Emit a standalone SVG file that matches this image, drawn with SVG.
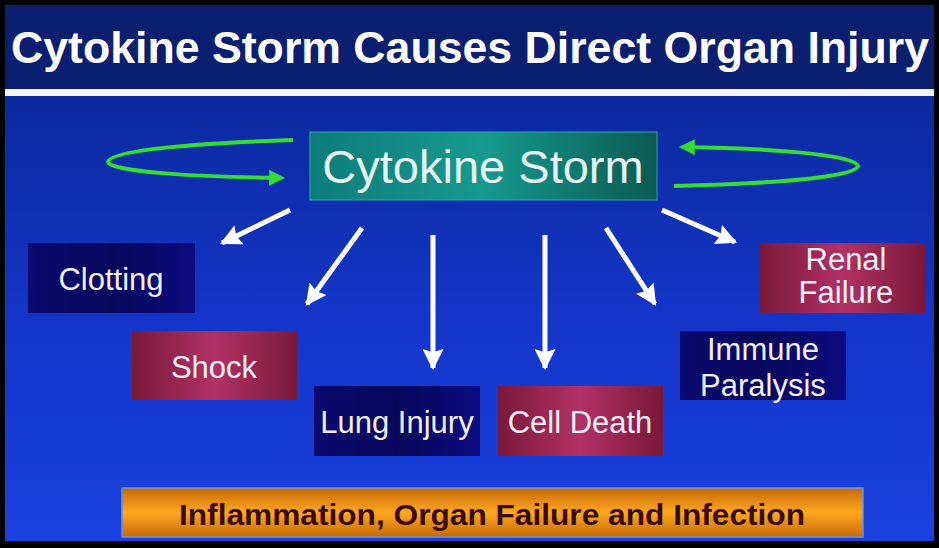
<svg xmlns="http://www.w3.org/2000/svg" width="939" height="548" viewBox="0 0 939 548">
<defs>
<linearGradient id="bg" x1="0" y1="0" x2="0" y2="1">
<stop offset="0" stop-color="#0b2a9e"/>
<stop offset="0.5" stop-color="#1435c8"/>
<stop offset="1" stop-color="#1a42e0"/>
</linearGradient>
<linearGradient id="teal" x1="0" y1="0" x2="1" y2="0">
<stop offset="0" stop-color="#0f7c7a"/>
<stop offset="0.5" stop-color="#169a8e"/>
<stop offset="1" stop-color="#0a5a52"/>
</linearGradient>
<linearGradient id="navy" x1="0" y1="0" x2="1" y2="0">
<stop offset="0" stop-color="#0a0a70"/>
<stop offset="0.5" stop-color="#07075a"/>
<stop offset="1" stop-color="#0c0c80"/>
</linearGradient>
<linearGradient id="maroon" x1="0" y1="0" x2="1" y2="0">
<stop offset="0" stop-color="#7a1838"/>
<stop offset="0.5" stop-color="#b03264"/>
<stop offset="1" stop-color="#7a1838"/>
</linearGradient>
<linearGradient id="orange" x1="0" y1="0" x2="0" y2="1">
<stop offset="0" stop-color="#c46a08"/>
<stop offset="0.5" stop-color="#ffa820"/>
<stop offset="1" stop-color="#c46a08"/>
</linearGradient>
<marker id="wa" viewBox="0 0 10 10" refX="9" refY="5" markerWidth="4.2" markerHeight="4.2" orient="auto" markerUnits="strokeWidth">
<path d="M0,0 L10,5 L0,10 L1.5,5 z" fill="#ffffff"/>
</marker>
<marker id="ga" viewBox="0 0 10 10" refX="8" refY="5" markerWidth="5" markerHeight="4" orient="auto" markerUnits="strokeWidth">
<path d="M0,0 L10,5 L0,10 z" fill="#33dd33"/>
</marker>
</defs>
<style>
.lbl{font-family:"Liberation Sans",Arial,sans-serif;fill:#f2eef8;font-size:31px;text-anchor:middle}
.arr{stroke:#ffffff;stroke-width:5;fill:none;marker-end:url(#wa)}
.loop{stroke:#33dd33;stroke-width:4;fill:none}
</style>
<rect width="939" height="548" fill="#000"/>
<rect x="5" y="96" width="929" height="445" fill="url(#bg)"/>
<rect x="5" y="5" width="929" height="84" fill="#0a1f70"/>
<rect x="5" y="89" width="929" height="7" fill="#f4f4fa"/>
<text x="470" y="63" font-family="Liberation Sans,Arial,sans-serif" font-weight="bold" font-size="44" fill="#ffffff" text-anchor="middle" textLength="918" lengthAdjust="spacingAndGlyphs">Cytokine Storm Causes Direct Organ Injury</text>

<g id="connectors">
<path class="loop" d="M293,140 C200,143 110,150 108,162 C110,172 200,177 282,178" marker-end="url(#ga)"/>
<path class="loop" d="M674,186 C760,184 856,178 858,166 C856,154 760,148 682,147" marker-end="url(#ga)"/>
<line class="arr" x1="290" y1="210" x2="222" y2="243"/>
<line class="arr" x1="362" y1="228" x2="307" y2="304"/>
<line class="arr" x1="433" y1="235" x2="433" y2="368"/>
<line class="arr" x1="545" y1="235" x2="545" y2="368"/>
<line class="arr" x1="606" y1="228" x2="655" y2="304"/>
<line class="arr" x1="662" y1="210" x2="735" y2="242"/>
</g>

<g id="cytokine-storm">
<rect x="310" y="132" width="347" height="68" fill="url(#teal)" stroke="#2aa8b0" stroke-width="1"/>
<text x="483" y="183" font-family="Liberation Sans,Arial,sans-serif" font-size="47" fill="#e8f4f4" text-anchor="middle">Cytokine Storm</text>
</g>
<g id="clotting">
<rect x="28" y="243" width="167" height="70" fill="url(#navy)"/>
<text class="lbl" x="111" y="290">Clotting</text>
</g>
<g id="shock">
<rect x="132" y="331" width="165" height="69" fill="url(#maroon)"/>
<text class="lbl" x="214" y="378">Shock</text>
</g>
<g id="lung-injury">
<rect x="314" y="386" width="166" height="70" fill="url(#navy)"/>
<text class="lbl" x="397" y="433">Lung Injury</text>
</g>
<g id="cell-death">
<rect x="498" y="386" width="165" height="70" fill="url(#maroon)"/>
<text class="lbl" x="580" y="433">Cell Death</text>
</g>
<g id="immune-paralysis">
<rect x="680" y="331" width="166" height="69" fill="url(#navy)"/>
<text class="lbl" x="763" y="360">Immune</text>
<text class="lbl" x="763" y="396">Paralysis</text>
</g>
<g id="renal-failure">
<rect x="760" y="243" width="165" height="70" fill="url(#maroon)"/>
<text class="lbl" x="846" y="270">Renal</text>
<text class="lbl" x="846" y="303">Failure</text>
</g>
<g id="outcome">
<rect x="122" y="488" width="741" height="49" fill="url(#orange)" stroke="#7a90c8" stroke-width="1.5"/>
<text x="492" y="525" font-family="Liberation Sans,Arial,sans-serif" font-weight="bold" font-size="29" fill="#3a0a0a" text-anchor="middle" textLength="626" lengthAdjust="spacingAndGlyphs">Inflammation, Organ Failure and Infection</text>
</g>
</svg>
